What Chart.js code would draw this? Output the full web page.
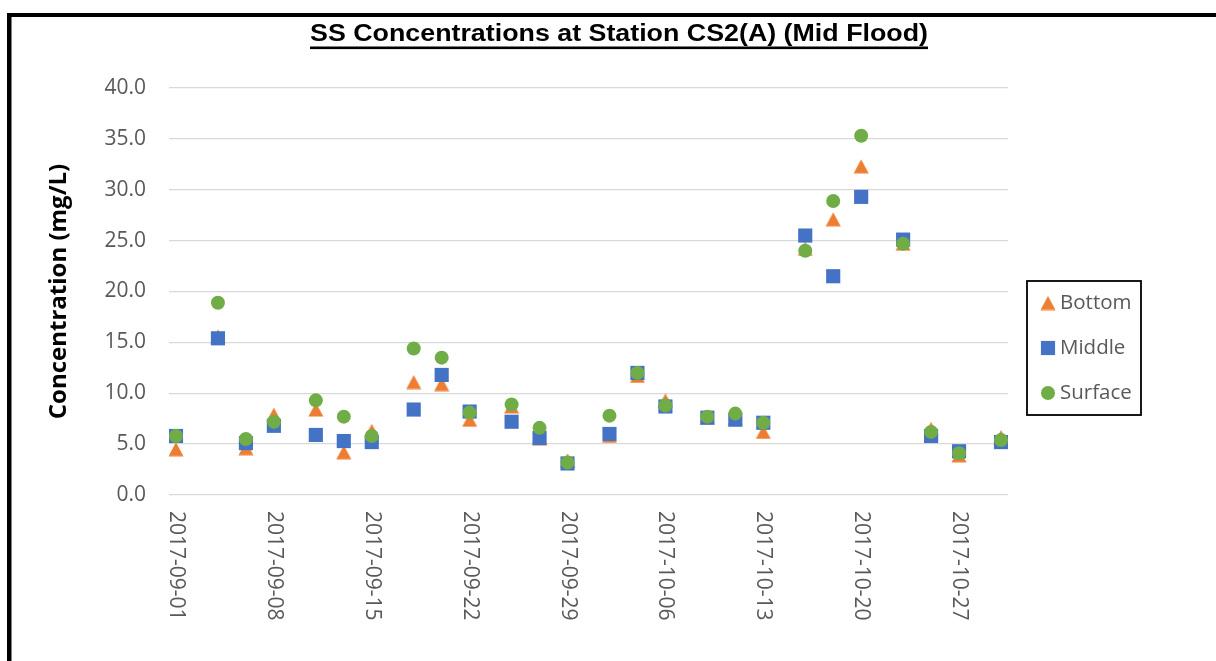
<!DOCTYPE html>
<html>
<head>
<meta charset="utf-8">
<title>SS Concentrations at Station CS2(A) (Mid Flood)</title>
<script src="https://cdn.jsdelivr.net/npm/chart.js@4.4.0/dist/chart.umd.min.js"></script>
<style>
  html, body { margin: 0; padding: 0; background: #fff; }
  #wrap { width: 1216px; height: 661px; }
</style>
</head>
<body>
<div id="wrap"><canvas id="ssChart" width="1216" height="661"></canvas></div>
<script>
// sampling dates and SS readings (mg/L) at each depth
const sampleDates = [
  '2017-09-01', '2017-09-04', '2017-09-06', '2017-09-08', '2017-09-11', '2017-09-13',
  '2017-09-15', '2017-09-18', '2017-09-20', '2017-09-22', '2017-09-25', '2017-09-27',
  '2017-09-29', '2017-10-02', '2017-10-04', '2017-10-06', '2017-10-09', '2017-10-11',
  '2017-10-13', '2017-10-16', '2017-10-18', '2017-10-20', '2017-10-23', '2017-10-25',
  '2017-10-27', '2017-10-30'
];
const bottomSS = [4.5, 15.6, 4.6, 7.9, 8.4, 4.2, 6.3, 11.1, 10.9, 7.4, 8.7, 5.6, 3.4,
                  5.8, 11.7, 9.3, 7.6, 7.5, 6.2, 24.2, 27.1, 32.3, 24.7, 6.5, 3.9, 5.7];
const middleSS = [5.8, 15.4, 5.1, 6.8, 5.9, 5.3, 5.2, 8.4, 11.8, 8.2, 7.2, 5.6, 3.1,
                  6.0, 12.0, 8.7, 7.6, 7.4, 7.1, 25.5, 21.5, 29.3, 25.1, 5.8, 4.3, 5.2];
const surfaceSS = [5.8, 18.9, 5.5, 7.2, 9.3, 7.7, 5.8, 14.4, 13.5, 8.1, 8.9, 6.6, 3.2,
                   7.8, 12.0, 8.8, 7.7, 8.0, 7.1, 24.0, 28.9, 35.3, 24.7, 6.2, 4.1, 5.4];

const tickDates = ['2017-09-01', '2017-09-08', '2017-09-15', '2017-09-22', '2017-09-29',
                   '2017-10-06', '2017-10-13', '2017-10-20', '2017-10-27'];
const yTicks = [0, 5, 10, 15, 20, 25, 30, 35, 40];

const seriesNames = ['Bottom', 'Middle', 'Surface'];
const seriesColors = ['#ED7D31', '#4472C4', '#70AD47'];
const chartTitle = 'SS Concentrations at Station CS2(A) (Mid Flood)';
const yAxisTitle = 'Concentration (mg/L)';

const DAY = 86400000;
const startMs = Date.parse(tickDates[0] + 'T00:00:00Z');
const dayOf = s => (Date.parse(s + 'T00:00:00Z') - startMs) / DAY;
const dateOf = d => new Date(startMs + d * DAY).toISOString().slice(0, 10);

function toPoints(values) {
  return sampleDates.map((d, i) => ({ x: dayOf(d), y: values[i] }));
}

// triangle marker centred on its box (the built-in one sits on its centroid)
function triangleMark(color) {
  const c = document.createElement('canvas');
  c.width = 16;
  c.height = 15;
  const g = c.getContext('2d');
  g.fillStyle = color;
  g.beginPath();
  g.moveTo(8, 0.5);
  g.lineTo(15.5, 14.5);
  g.lineTo(0.5, 14.5);
  g.closePath();
  g.fill();
  return c;
}

const markers = [
  { style: triangleMark(seriesColors[0]), radius: 8 },
  { style: 'rect', radius: 10 },
  { style: 'circle', radius: 7 }
];

const seriesValues = [bottomSS, middleSS, surfaceSS];

const datasets = seriesNames.map((name, i) => ({
  label: name,
  data: toPoints(seriesValues[i]),
  backgroundColor: seriesColors[i],
  borderColor: seriesColors[i],
  pointStyle: markers[i].style,
  pointRadius: markers[i].radius,
  pointHoverRadius: markers[i].radius,
  pointBorderWidth: 0,
  showLine: false,
  order: 3 - i   // surface on top, bottom underneath
}));

// frame, title, rotated date labels and boxed legend
const decorations = {
  id: 'decorations',
  afterDraw(chart) {
    const ctx = chart.ctx;
    const area = chart.chartArea;
    ctx.save();

    // outer frame
    ctx.fillStyle = '#000';
    ctx.fillRect(7, 13, chart.width - 7, 4);
    ctx.fillRect(7, 13, 4.5, chart.height - 13);

    // title, bold and underlined
    ctx.font = 'bold 23px "Liberation Sans", Arial, sans-serif';
    const natural = ctx.measureText(chartTitle).width;
    const titleW = 618;
    const cx = 619;
    ctx.save();
    ctx.translate(cx, 41);
    ctx.scale(titleW / natural, 1);
    ctx.textAlign = 'center';
    ctx.textBaseline = 'alphabetic';
    ctx.fillText(chartTitle, 0, 0);
    ctx.restore();
    ctx.fillRect(cx - titleW / 2, 46.5, titleW, 2.6);

    // date labels, reading top to bottom
    const xs = chart.scales.x;
    ctx.font = '21px "Open Sans", sans-serif';
    ctx.fillStyle = '#595959';
    ctx.textAlign = 'left';
    ctx.textBaseline = 'middle';
    xs.ticks.forEach(t => {
      const px = xs.getPixelForValue(t.value);
      ctx.save();
      ctx.translate(px, area.bottom + 16);
      ctx.rotate(Math.PI / 2);
      ctx.fillText(dateOf(t.value), 0, 0);
      ctx.restore();
    });

    // legend
    const box = { x: 1027, y: 281, w: 114, h: 134 };
    ctx.lineWidth = 1.8;
    ctx.strokeStyle = '#000';
    ctx.strokeRect(box.x, box.y, box.w, box.h);
    ctx.font = '20.5px "Open Sans", sans-serif';
    chart.data.datasets.forEach((ds, i) => {
      const cy = box.y + 22 + i * 45;
      ctx.fillStyle = ds.backgroundColor;
      Chart.helpers.drawPoint(ctx, {
        pointStyle: ds.pointStyle, radius: ds.pointRadius, rotation: 0, borderWidth: 0
      }, box.x + 21, cy);
      ctx.fillStyle = '#595959';
      ctx.fillText(ds.label, box.x + 33, cy);
    });

    ctx.restore();
  }
};

new Chart(document.getElementById('ssChart'), {
  type: 'scatter',
  data: { datasets },
  options: {
    responsive: false,
    animation: false,
    devicePixelRatio: 1,
    layout: { padding: { top: 88, right: 208, bottom: 0, left: 12 } },
    plugins: {
      legend: { display: false },
      title: { display: false },
      tooltip: { enabled: false }
    },
    scales: {
      x: {
        type: 'linear',
        min: dayOf(sampleDates[0]) - 0.5,
        max: dayOf(sampleDates[sampleDates.length - 1]) + 0.5,
        afterBuildTicks: s => { s.ticks = tickDates.map(d => ({ value: dayOf(d) })); },
        afterFit: s => { s.height = 166; },
        grid: { display: false, drawTicks: false },
        border: { display: false },
        ticks: { display: false }
      },
      y: {
        min: 0,
        max: 40,
        afterBuildTicks: s => { s.ticks = yTicks.map(v => ({ value: v })); },
        afterFit: s => { s.width = 157; },
        grid: { color: '#D9D9D9', lineWidth: 1.3, drawTicks: false },
        border: { display: false },
        ticks: {
          callback: v => v.toFixed(1),
          color: '#595959',
          font: { family: '"Open Sans", sans-serif', size: 21 },
          padding: 23
        },
        title: {
          display: true,
          text: yAxisTitle,
          color: '#000',
          font: { family: '"Open Sans", sans-serif', size: 24, weight: 'bold' },
          padding: { top: 33, bottom: 0 }
        }
      }
    }
  },
  plugins: [decorations]
});
</script>
</body>
</html>
